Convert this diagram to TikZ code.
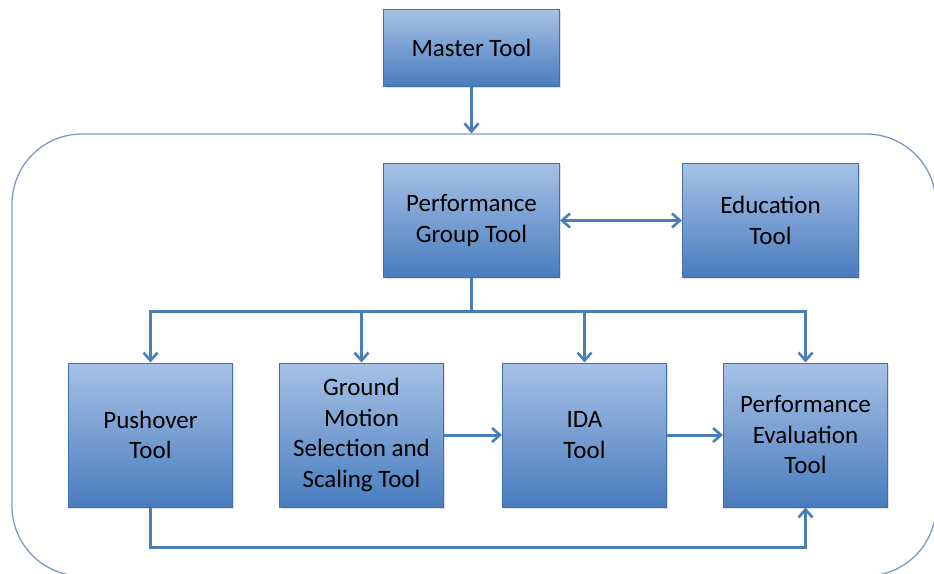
\documentclass[tikz,border=0pt]{standalone}
\usepackage{fontspec}
\setmainfont{Carlito}
\usetikzlibrary{arrows.meta,positioning,shadows}

\definecolor{boxtop}{RGB}{166,193,230}
\definecolor{boxbottom}{RGB}{72,124,190}
\definecolor{boxedge}{RGB}{66,112,175}
\definecolor{linkblue}{RGB}{74,126,187}
\definecolor{framegray}{RGB}{125,152,192}

\begin{document}
\begin{tikzpicture}[x=1pt, y=-1pt,
  tool/.style={draw=boxedge, line width=1pt, top color=boxtop, bottom color=boxbottom,
    align=center, inner sep=4pt, text=black,
    font=\fontsize{25}{30.5}\selectfont,
    drop shadow={shadow xshift=1.2pt, shadow yshift=-1.5pt, opacity=0.25}},
  small/.style={tool, minimum width=176pt, minimum height=77pt},
  mid/.style={tool, minimum width=176pt, minimum height=114pt},
  big/.style={tool, minimum width=164pt, minimum height=144pt},
  frame/.style={draw=framegray, line width=1.3pt, rounded corners=70pt},
  link/.style={draw=linkblue, line width=3pt},
  arr/.style={link, -{Straight Barb[length=8pt, width=14pt, line width=2.6pt]}},
  dblarr/.style={link, {Straight Barb[length=8pt, width=14pt, line width=2.6pt]}-{Straight Barb[length=8pt, width=14pt, line width=2.6pt]}}
]
\useasboundingbox (0,0) rectangle (934,573);

% outer frame around the tool group
\node[frame, minimum width=924pt, minimum height=442pt] (panel) at (474,355) {};

\node[small] (master) at (471.5,48) {Master Tool};
\node[mid, below=76pt of master] (group) {Performance\\Group Tool};
\node[mid, right=122pt of group] (edu) {Education\\Tool};

% bottom row
\node[big] (push) at (150.5,435) {Pushover\\Tool};
\node[big, right=46pt of push] (ground) {Ground\\Motion\\Selection and\\Scaling Tool};
\node[big, right=58pt of ground] (ida) {IDA\\Tool};
\node[big, right=56pt of ida] (eval) {Performance\\Evaluation\\Tool};

\coordinate (split) at (471.5,311);
\coordinate (back) at (471.5,547);

\draw[arr] (master) -- (master |- panel.north);
\draw[dblarr] (group) -- (edu);

\draw[link] (group) -- (split);
\draw[arr] (split) -| (push);
\draw[arr] (split) -| (ground);
\draw[arr] (split) -| (ida);
\draw[arr] (split) -| (eval);

\draw[arr] (ground) -- (ida);
\draw[arr] (ida) -- (eval);
\draw[arr] (push) |- (back) -| (eval);

\end{tikzpicture}
\end{document}
